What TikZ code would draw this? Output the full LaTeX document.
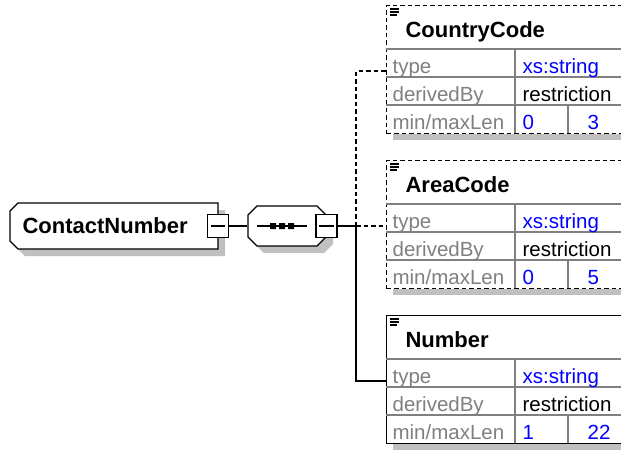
\documentclass[tikz,border=0pt]{standalone}
\usepackage{fontspec}
\setmainfont{Liberation Sans}
\usetikzlibrary{positioning}
\definecolor{shadowgray}{HTML}{C0C0C0}
\definecolor{rowgray}{HTML}{808080}
\definecolor{valblue}{HTML}{0000FF}

\begin{document}
\begin{tikzpicture}[x=1pt, y=-1pt, line width=1.2pt,
	minusbox/.style={draw, fill=white, minimum width=21pt, minimum height=23pt, inner sep=0pt},
	optline/.style={dash pattern=on 4.5pt off 3pt},
	childbox/.style={draw, fill=white, minimum width=260pt, minimum height=128pt, anchor=north west, inner sep=0pt},
	headtext/.style={font=\fontsize{22}{26}\selectfont\bfseries, inner sep=0pt, anchor=base west},
	labeltext/.style={font=\fontsize{20.5}{24}\selectfont, text=rowgray, inner sep=0pt, anchor=base west},
	valuetext/.style={labeltext, text=valblue},
	plaintext/.style={labeltext, text=black}]
		
		\useasboundingbox (0,0) rectangle (621,451);
		\clip (0,0) rectangle (621,451);
		
		% Elemento ContactNumber (sombra, marco con esquinas cortadas, texto)
		\fill[shadowgray] (25,210) -- (225,210) -- (225,256) -- (25,256) -- (17,248) -- (17,218) -- cycle;
		\draw[fill=white] (18,203) -- (218,203) -- (218,249) -- (18,249) -- (10,241) -- (10,211) -- cycle;
		\node[headtext] (contact) at (22,233) {ContactNumber};
		\node[minusbox] (contactminus) at (218,226) {};
		\draw ([xshift=4pt]contactminus.west) -- ([xshift=-4pt]contactminus.east);
		
		% Compositor de secuencia (octagono)
		\fill[shadowgray] (264,213) -- (324,213) -- (333,222) -- (333,244) -- (324,253) -- (264,253) -- (255,244) -- (255,222) -- cycle;
		\draw[fill=white] (257,206) -- (317,206) -- (326,215) -- (326,237) -- (317,246) -- (257,246) -- (248,237) -- (248,215) -- cycle;
		\node[minimum width=78pt, minimum height=40pt, inner sep=0pt] (seq) at (287,226) {};
		\draw (257,226) -- (307,226);
		\fill (270,223) rectangle (276,229) (279,223) rectangle (285,229) (288,223) rectangle (294,229);
		\node[minusbox] (seqminus) at (326.5,226) {};
		\draw ([xshift=4pt]seqminus.west) -- ([xshift=-4pt]seqminus.east);
		
		% Hijo CountryCode (opcional, borde punteado)
		\begin{scope}[shift={(386,5)}]
			\fill[shadowgray] (7,128) rectangle (270,135);
			\node[childbox, optline] (country) at (0,0) {};
			\draw[rowgray] (0,44) -- (260,44) (0,72) -- (260,72) (0,100) -- (260,100) (129,44) -- (129,128) (182,100) -- (182,128);
			\draw (4,4) -- (13,4) (4,7) -- (13,7) (4,10) -- (11,10);
			\node[headtext] (countryname) at (19,32) {CountryCode};
			\node[labeltext] (countrytype) at (6,68) {type};
			\node[valuetext] (countrytypeval) at (136,68) {xs:string};
			\node[labeltext] (countryderiv) at (6,96) {derivedBy};
			\node[plaintext] (countryderivval) at (136,96) {restriction};
			\node[labeltext] (countrylen) at (6,124) {min/maxLen};
			\node[valuetext] (countrymin) at (136,124) {0};
			\node[valuetext] (countrymax) at (201,124) {3};
		\end{scope}
		
		% Hijo AreaCode (opcional, borde punteado)
		\begin{scope}[shift={(386,160)}]
			\fill[shadowgray] (7,128) rectangle (270,135);
			\node[childbox, optline] (area) at (0,0) {};
			\draw[rowgray] (0,44) -- (260,44) (0,72) -- (260,72) (0,100) -- (260,100) (129,44) -- (129,128) (182,100) -- (182,128);
			\draw (4,4) -- (13,4) (4,7) -- (13,7) (4,10) -- (11,10);
			\node[headtext] (areaname) at (19,32) {AreaCode};
			\node[labeltext] (areatype) at (6,68) {type};
			\node[valuetext] (areatypeval) at (136,68) {xs:string};
			\node[labeltext] (areaderiv) at (6,96) {derivedBy};
			\node[plaintext] (areaderivval) at (136,96) {restriction};
			\node[labeltext] (arealen) at (6,124) {min/maxLen};
			\node[valuetext] (areamin) at (136,124) {0};
			\node[valuetext] (areamax) at (201,124) {5};
		\end{scope}
		
		% Hijo Number (obligatorio, borde continuo)
		\begin{scope}[shift={(386,315)}]
			\fill[shadowgray] (7,128) rectangle (270,135);
			\node[childbox] (number) at (0,0) {};
			\draw[rowgray] (0,44) -- (260,44) (0,72) -- (260,72) (0,100) -- (260,100) (129,44) -- (129,128) (182,100) -- (182,128);
			\draw (4,4) -- (13,4) (4,7) -- (13,7) (4,10) -- (11,10);
			\node[headtext] (numbername) at (19,32) {Number};
			\node[labeltext] (numbertype) at (6,68) {type};
			\node[valuetext] (numbertypeval) at (136,68) {xs:string};
			\node[labeltext] (numberderiv) at (6,96) {derivedBy};
			\node[plaintext] (numberderivval) at (136,96) {restriction};
			\node[labeltext] (numberlen) at (6,124) {min/maxLen};
			\node[valuetext] (numbermin) at (136,124) {1};
			\node[valuetext] (numbermax) at (201,124) {22};
		\end{scope}
		
		% Conectores: elemento -> secuencia -> barra -> hijos
		\coordinate (busC) at (356,71);
		\coordinate (busA) at (356,226);
		\coordinate (busN) at (356,381);
		\draw (contactminus.east) -- (seq.west);
		\draw (seqminus.east) -- (busA);
		\draw[optline] (busA) -- (busC) -- (busC -| country.west);
		\draw[optline] (busA) -- (busA -| area.west);
		\draw (busA) -- (busN) -- (busN -| number.west);
		
	\end{tikzpicture}
\end{document}
